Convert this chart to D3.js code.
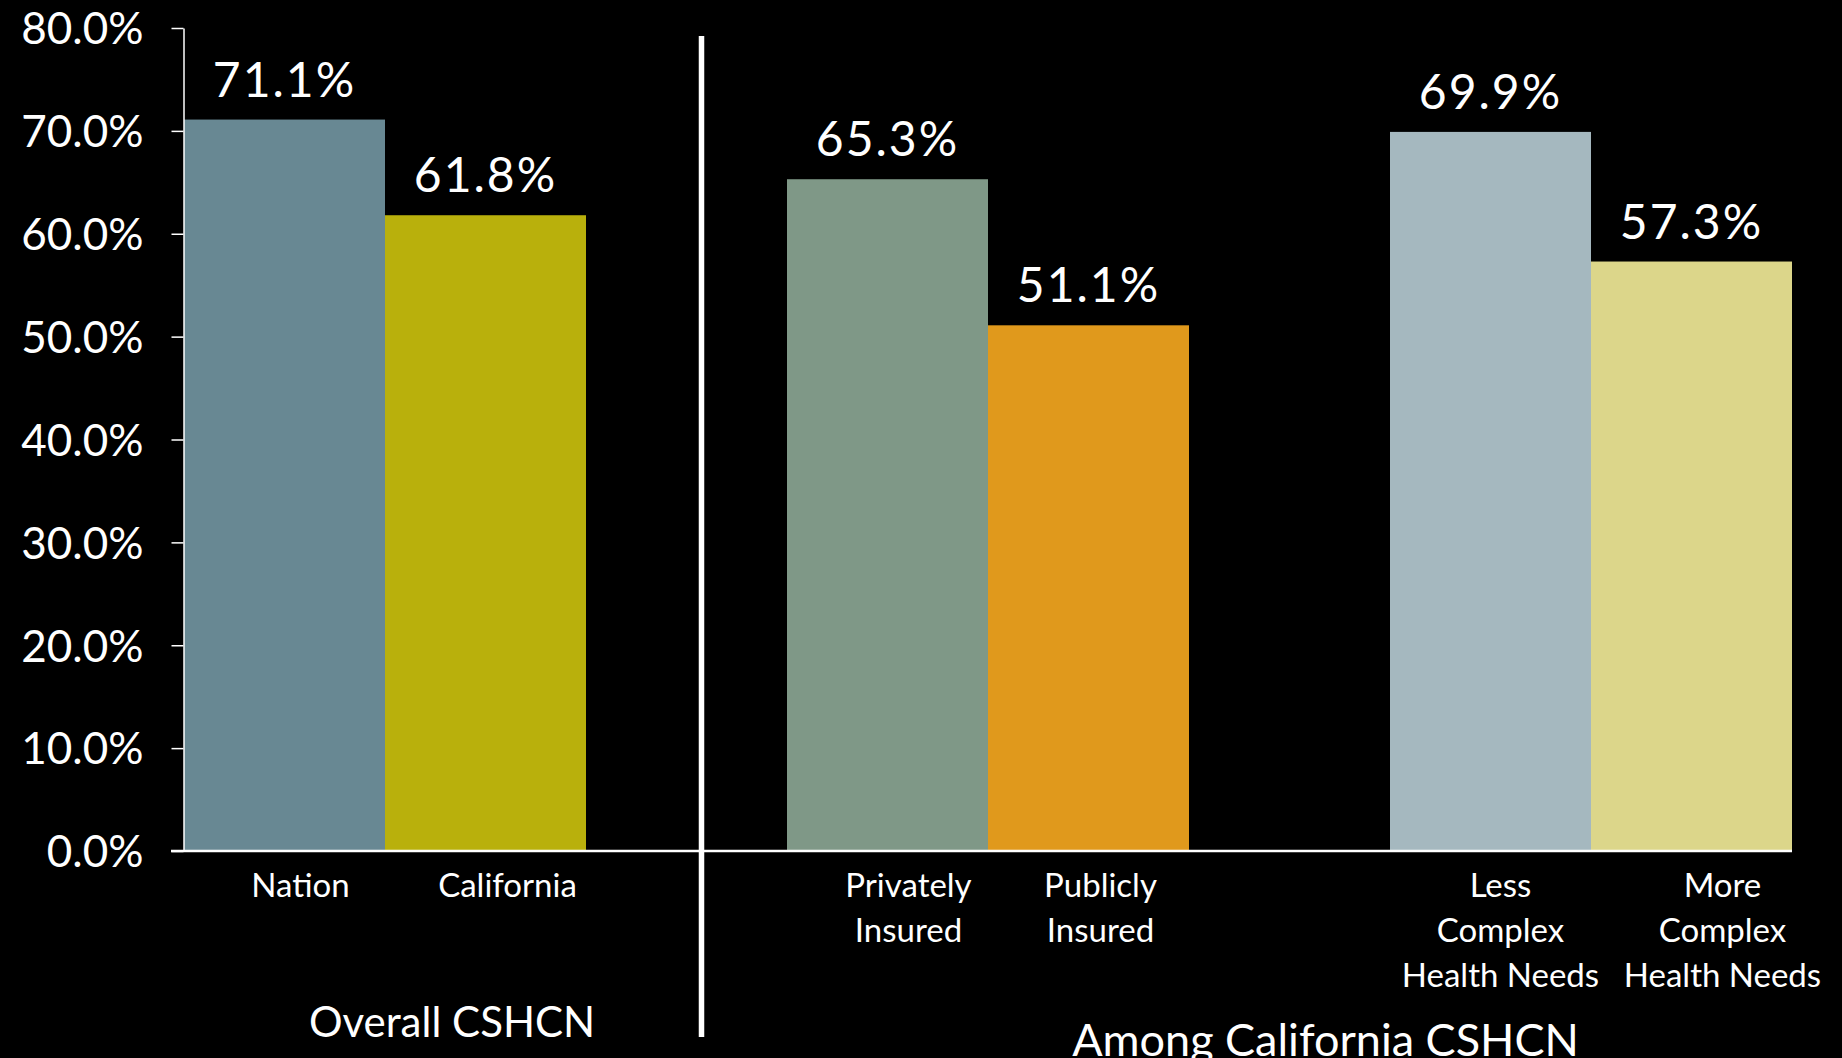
<!DOCTYPE html>
<html>
<head>
<meta charset="utf-8">
<script src="https://cdn.jsdelivr.net/npm/d3@7"></script>
<style>
    html, body { margin: 0; padding: 0; background: #000000; }
    svg { display: block; font-family: Lato, "Open Sans", sans-serif; }
</style>
</head>
<body>
<svg id="chart"></svg>
<script>
// Data ----------------------------------------
const categories = ["Nation", "California", "Privately Insured", "Publicly Insured",
                    "Less Complex Health Needs", "More Complex Health Needs"];
const values = [71.1, 61.8, 65.3, 51.1, 69.9, 57.3];
const labelLines = [["Nation"], ["California"], ["Privately", "Insured"], ["Publicly", "Insured"],
                    ["Less", "Complex", "Health Needs"], ["More", "Complex", "Health Needs"]];
const groupNames = ["Overall CSHCN", "Among California CSHCN"];
const groupOf = [0, 0, 1, 1, 1, 1];
const yTicks = [0, 10, 20, 30, 40, 50, 60, 70, 80];
const colors = ["#688893", "#b9b00c", "#7f9887", "#e0991c", "#a5b8bf", "#dcd68a"];

// Layout --------------------------------------
const W = 1842, H = 1058;
// slot order on the x axis, empty slots leave room between the groups
const slots = ["Nation", "California", "_gap1", "Privately Insured", "Publicly Insured",
               "_gap2", "Less Complex Health Needs", "More Complex Health Needs"];
const labelNudge = [16, 22, 21, 12, 10, 31];   // category labels sit a bit right of the bars

const svg = d3.select("#chart")
    .attr("width", W)
    .attr("height", H);

svg.append("rect")
    .attr("width", W).attr("height", H)
    .attr("fill", "#000000");

let x = d3.scaleBand()
    .domain(slots)
    .range([184, 1792])
    .padding(0);

let y = d3.scaleLinear()
    .domain([0, 80])
    .range([851, 28]);

// Bars
svg.append("g")
    .selectAll("rect")
    .data(categories)
    .enter().append("rect")
    .attr("x", d => x(d))
    .attr("width", x.bandwidth())
    .attr("y", (d, i) => y(values[i]))
    .attr("height", (d, i) => y(0) - y(values[i]))
    .attr("fill", (d, i) => colors[i]);

// Y axis
let yAxis = svg.append("g")
    .attr("transform", "translate(183.5,0)")
    .call(d3.axisLeft(y)
        .tickValues(yTicks)
        .tickSize(12)
        .tickSizeOuter(0)
        .tickPadding(28)
        .tickFormat(d => d.toFixed(1) + "%"));
yAxis.select(".domain").attr("stroke", "#ffffff").attr("stroke-width", 1.5);
yAxis.selectAll(".tick line").attr("stroke", "#ffffff").attr("stroke-width", 1.5);
yAxis.selectAll(".tick text")
    .attr("fill", "#ffffff")
    .attr("font-size", "44px")
    .attr("font-family", "Lato, sans-serif")
    .attr("dy", "0.36em");

// X axis base line
svg.append("line")
    .attr("x1", 171).attr("x2", x.range()[1])
    .attr("y1", y(0)).attr("y2", y(0))
    .attr("stroke", "#ffffff")
    .attr("stroke-width", 2.5);

// Value labels
svg.append("g")
    .selectAll("text")
    .data(categories)
    .enter().append("text")
    .attr("x", d => x(d) + x.bandwidth() / 2)
    .attr("y", (d, i) => y(values[i]) - 23)
    .attr("text-anchor", "middle")
    .attr("fill", "#ffffff")
    .attr("font-size", "48px")
    .attr("letter-spacing", "2px")
    .text((d, i) => values[i].toFixed(1) + "%");

// Category labels
let catLabels = svg.append("g")
    .selectAll("text")
    .data(categories)
    .enter().append("text")
    .attr("text-anchor", "middle")
    .attr("fill", "#ffffff")
    .attr("font-size", "33px")
    .attr("y", 897);

catLabels.each(function(d, i) {
    const cx = x(d) + x.bandwidth() / 2 + labelNudge[i];
    d3.select(this).selectAll("tspan")
        .data(labelLines[i])
        .enter().append("tspan")
        .attr("x", cx)
        .attr("dy", (t, j) => j === 0 ? 0 : 45)
        .text(t => t);
});

// Group labels
const groupCentre = groupNames.map((g, gi) => {
    const members = categories.filter((c, i) => groupOf[i] === gi);
    const left = x(members[0]);
    const right = x(members[members.length - 1]) + x.bandwidth();
    return (left + right) / 2;
});
const groupNudge = [67, 36];
const groupBase = [1037, 1056];
const groupSize = ["42px", "45px"];

svg.append("g")
    .selectAll("text")
    .data(groupNames)
    .enter().append("text")
    .attr("x", (d, i) => groupCentre[i] + groupNudge[i])
    .attr("y", (d, i) => groupBase[i])
    .attr("text-anchor", "middle")
    .attr("fill", "#ffffff")
    .attr("font-size", (d, i) => groupSize[i])
    .text(d => d);

// Divider between the two groups
const divX = x("_gap1") + x.bandwidth() / 2 + 15;
svg.append("line")
    .attr("x1", divX).attr("x2", divX)
    .attr("y1", 36).attr("y2", 1037)
    .attr("stroke", "#ffffff")
    .attr("stroke-width", 5.5);
</script>
</body>
</html>
